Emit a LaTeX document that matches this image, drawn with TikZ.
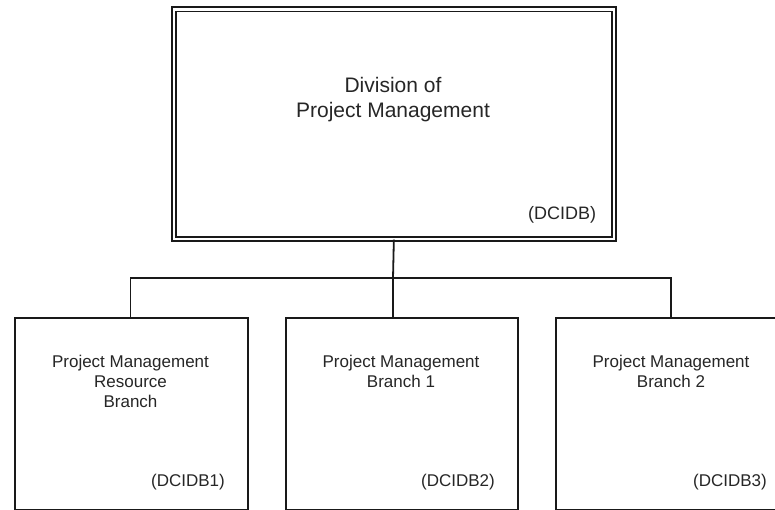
\documentclass[tikz,border=0pt]{standalone}
\usepackage{fontspec}
\setmainfont{Liberation Sans}
\begin{document}
\begin{tikzpicture}[x=1pt,y=-1pt,
  box/.style={draw=black!90, line width=1.8pt, inner sep=0pt, anchor=north west},
  dbox/.style={draw=black!90, line width=1.7pt, double=white, double distance=2.4pt, inner sep=0pt, anchor=north west},
  conn/.style={draw=black!90, line width=1.8pt},
  small/.style={text=black!85, inner sep=0pt, align=center, font=\fontsize{17}{20}\selectfont},
  big/.style={text=black!85, inner sep=0pt, align=center, font=\fontsize{21}{25}\selectfont}]
\useasboundingbox (0,0) rectangle (775,509);
\clip (0,0) rectangle (775,509);
\fill[white] (0,0) rectangle (775,509);
% top box
\node[dbox, minimum width=440pt, minimum height=229.5pt] (top) at (173,8.5) {};
\node[big, anchor=north] (ttxt) at (393,77) {Division of\\Project Management};
\node[small, anchor=base west, font=\fontsize{18}{21}\selectfont] (tcode) at (528,219) {(DCIDB)};
% bottom boxes
\node[box, minimum width=233pt, minimum height=192pt] (b1) at (14,317) {};
\node[box, minimum width=232pt, minimum height=192pt] (b2) at (285,317) {};
\node[box, minimum width=232pt, minimum height=192pt] (b3) at (555,317) {};
\node[small, anchor=north] (b1t) at (130.5,355) {Project Management\\Resource\\Branch};
\node[small, anchor=north] (b2t) at (401,355) {Project Management\\Branch 1};
\node[small, anchor=north] (b3t) at (671,355) {Project Management\\Branch 2};
\node[small, anchor=base east] (b1c) at (225,486) {(DCIDB1)};
\node[small, anchor=base east] (b2c) at (495,486) {(DCIDB2)};
\node[small, anchor=base east] (b3c) at (767,486) {(DCIDB3)};
% connectors
\coordinate (bar) at (393,278);
\coordinate (b1top) at (130.5,317);
\coordinate (b3top) at (671,317);
\draw[conn] (top.south) -- (bar);
\draw[conn] (b1top) |- (bar) -| (b3top);
\draw[conn] (bar) -- (bar |- b2.north);
\end{tikzpicture}
\end{document}
